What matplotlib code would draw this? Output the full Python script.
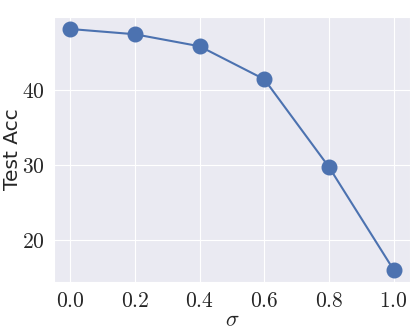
import numpy as np
import matplotlib
matplotlib.use("Agg")
import matplotlib.pyplot as plt
import seaborn as sns
from matplotlib.ticker import FuncFormatter

sigma = [0.0, 0.2, 0.4, 0.6, 0.8, 1.0]
test_acc = [48.1, 47.4, 45.8, 41.4, 29.7, 16.0]

sns.set_style("darkgrid")
plt.rcParams['mathtext.fontset'] = 'cm'
plt.rcParams['font.family'] = ['DejaVu Sans']

fig, ax = plt.subplots(figsize=(4.15, 3.32), dpi=100)
ax.plot(sigma, test_acc, marker='o', markersize=10.5, linewidth=1.5, color='#4C72B0')

ax.set_xticks([0.0, 0.2, 0.4, 0.6, 0.8, 1.0])
ax.set_yticks([20, 30, 40])
ax.xaxis.set_major_formatter(FuncFormatter(lambda v, p: r'$%.1f$' % v))
ax.yaxis.set_major_formatter(FuncFormatter(lambda v, p: r'$%d$' % v))
ax.tick_params(labelsize=15.5, colors='#262626', pad=3)
ax.set_xlabel(r'$\sigma$', fontsize=16, labelpad=-1)
ax.set_ylabel('Test Acc', fontsize=14.5)
ax.yaxis.set_label_coords(-0.09, 0.5)

fig.subplots_adjust(left=0.13, right=0.988, top=0.949, bottom=0.15)
fig.savefig('out.png')
